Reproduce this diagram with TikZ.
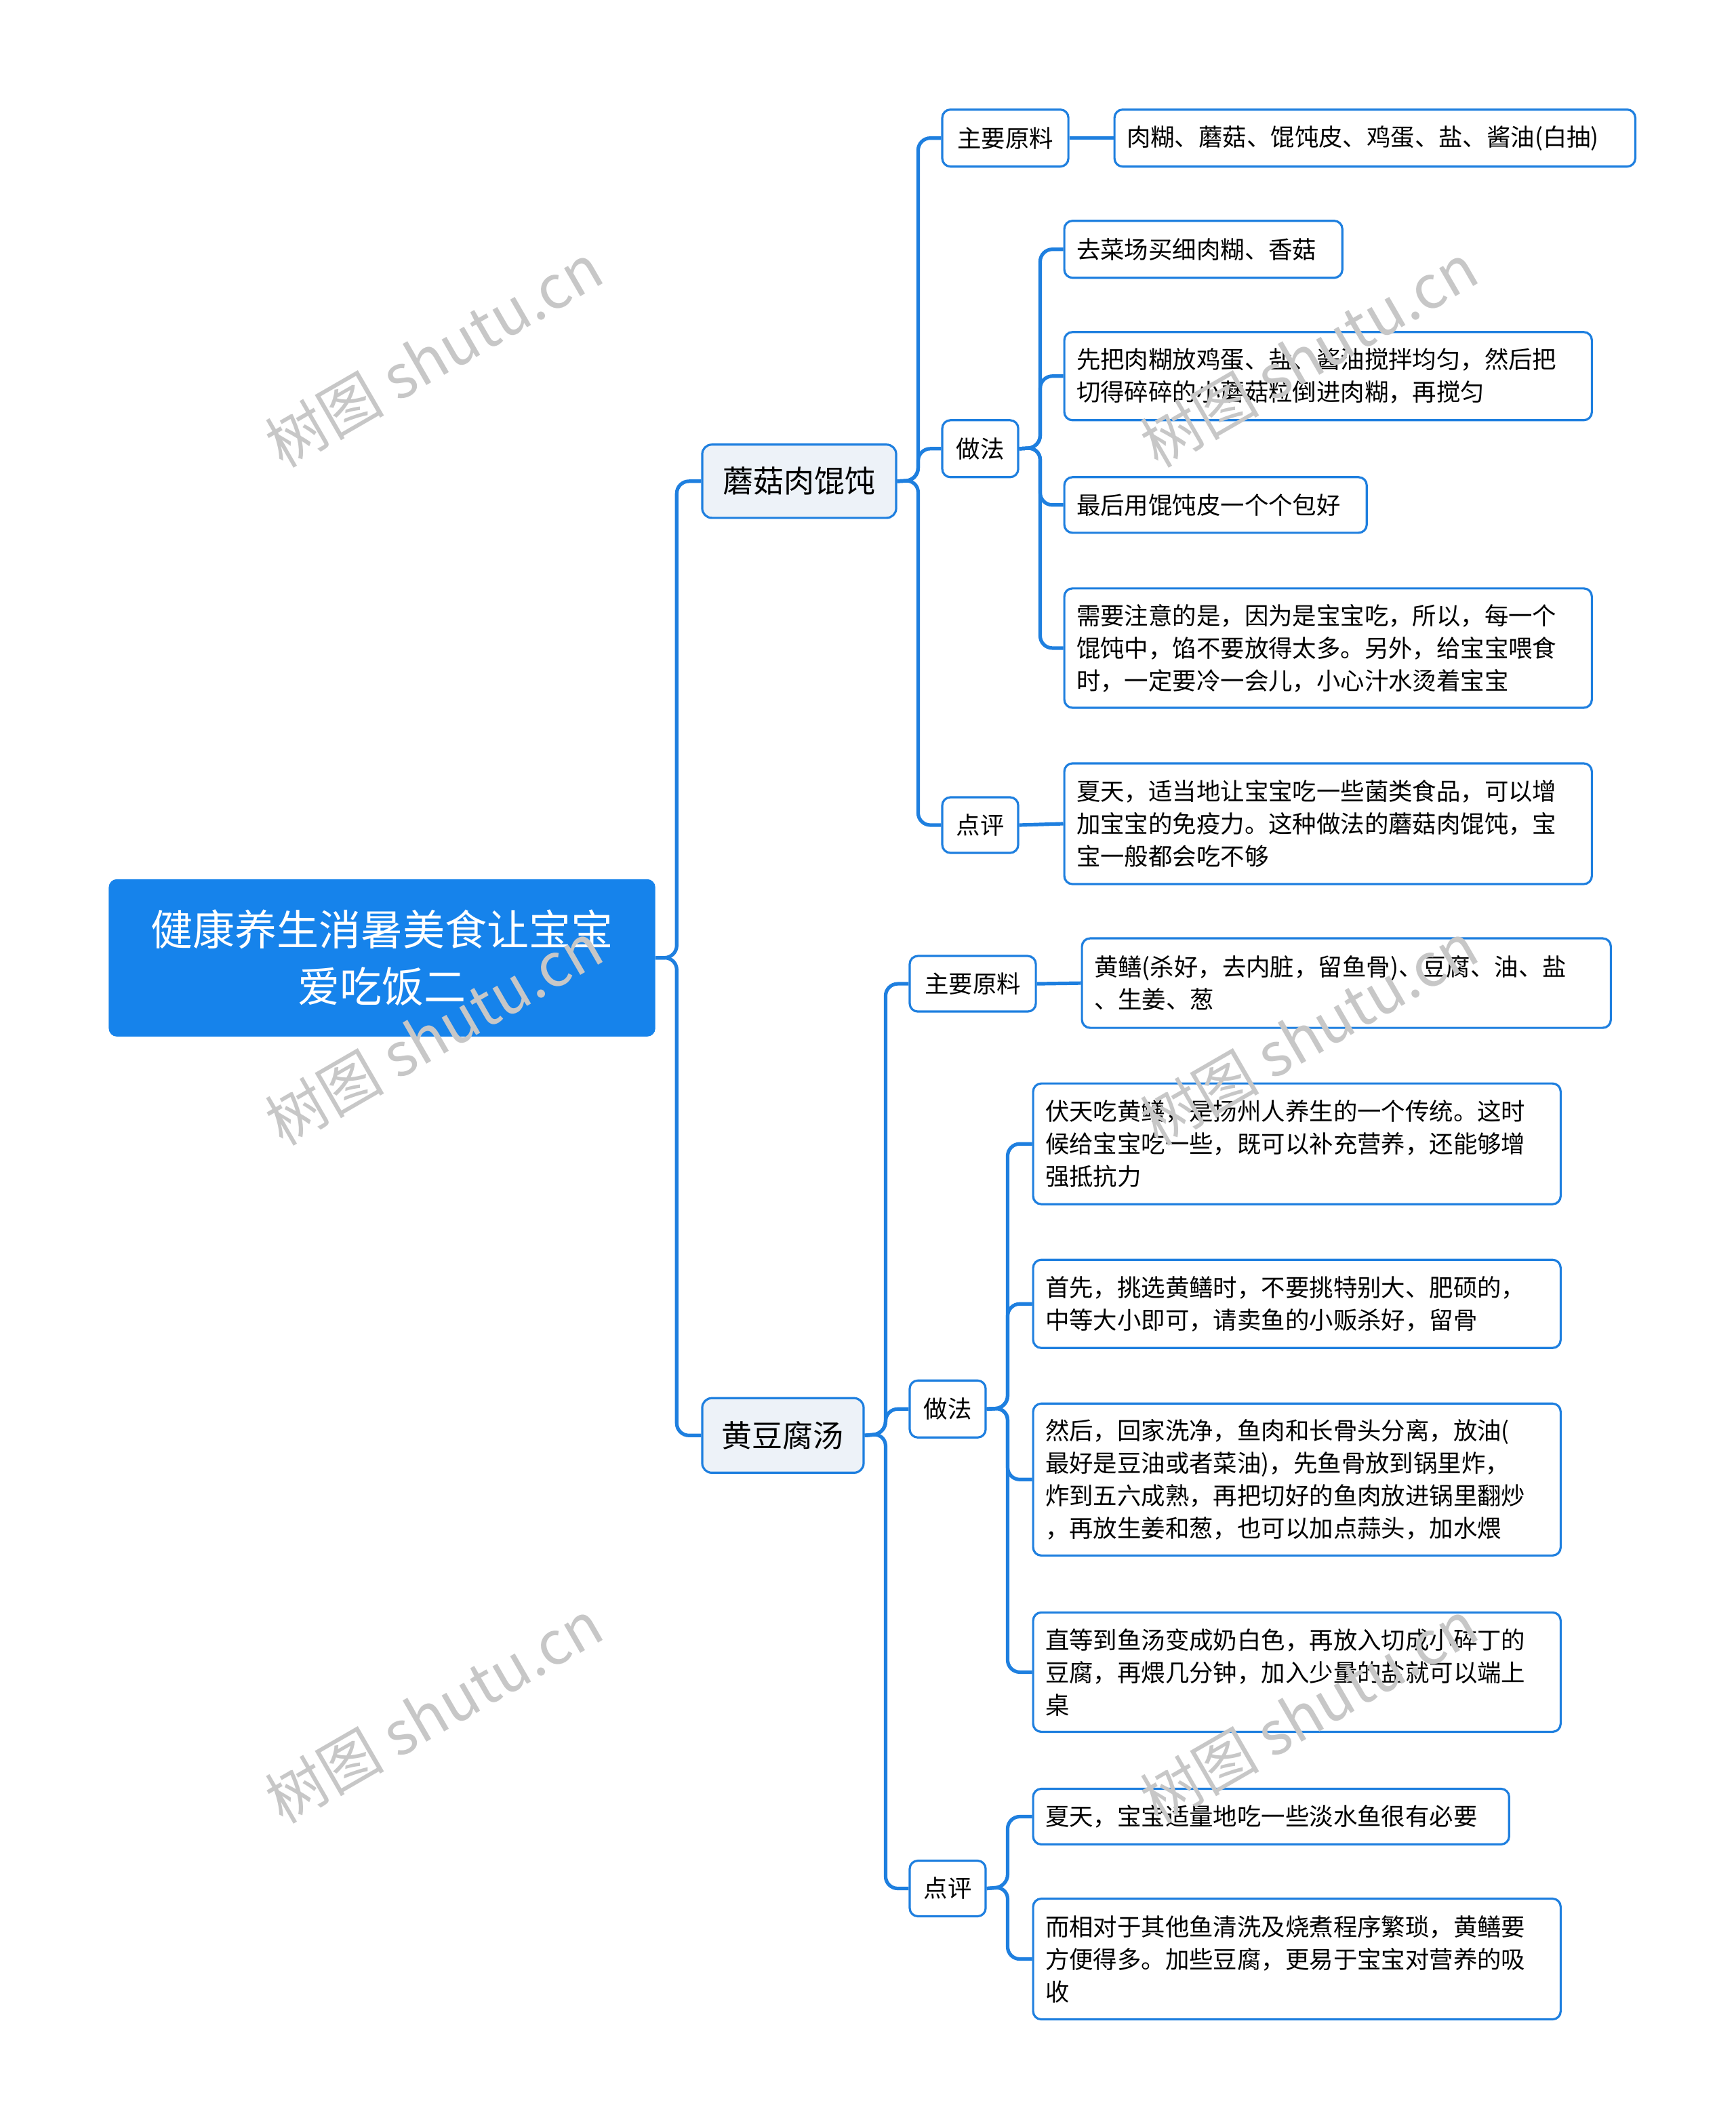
\documentclass[tikz,border=0pt]{standalone}
\usepackage{fontspec}
\setmainfont{Noto Sans CJK SC}
\begin{document}
\begin{tikzpicture}[x=1pt,y=-1pt,
  ln/.style={draw=lblue,line width=2.6pt,rounded corners=9pt},
  leaf/.style={draw=lblue,line width=1.6pt,rounded corners=6pt,fill=white,anchor=north west,inner xsep=9pt,inner ysep=0pt,align=left,font=\fontsize{17.7pt}{24pt}\selectfont,minimum height=#1pt},
  sub/.style={draw=lblue,line width=1.6pt,rounded corners=6pt,fill=white,anchor=north west,inner sep=0pt,align=center,font=\fontsize{17.7pt}{24pt}\selectfont},
  br/.style={draw=lblue,line width=1.6pt,rounded corners=7pt,fill=brfill,anchor=north west,inner sep=0pt,align=center,font=\fontsize{22.5pt}{28pt}\selectfont},
  wm/.style={text=black!22,rotate=30,font=\fontsize{44pt}{50pt}\selectfont}]
\definecolor{lblue}{HTML}{1E7FDF}
\definecolor{brfill}{HTML}{EDF2F8}
\definecolor{rootc}{HTML}{1683EB}
\fill[white] (0,0) rectangle (1280,1563);
\useasboundingbox (0,0) rectangle (1280,1563);
% root
\node[fill=rootc,rounded corners=6pt,anchor=north west,minimum width=403pt,minimum height=116pt,inner sep=0pt,align=center,text=white,font=\fontsize{31pt}{42pt}\selectfont] (root) at (80,648) {健康养生消暑美食让宝宝\\爱吃饭二};
% branches
\node[br,minimum width=143pt,minimum height=54pt] (b1) at (517,327) {蘑菇肉馄饨};
\node[br,minimum width=119pt,minimum height=55pt] (b2) at (517,1030) {黄豆腐汤};
% level 2
\node[sub,minimum width=93pt,minimum height=42pt] (b1a) at (694,80) {主要原料};
\node[sub,minimum width=56pt,minimum height=42pt] (b1b) at (694,309) {做法};
\node[sub,minimum width=56pt,minimum height=41pt] (b1c) at (694,587) {点评};
\node[sub,minimum width=93pt,minimum height=41pt] (b2a) at (670,704) {主要原料};
\node[sub,minimum width=56pt,minimum height=42pt] (b2b) at (670,1017) {做法};
\node[sub,minimum width=56pt,minimum height=41pt] (b2c) at (670,1371) {点评};
% leaves b1
\node[leaf=42,text width=366pt] (l1) at (821,80) {肉糊、蘑菇、馄饨皮、鸡蛋、盐、酱油(白抽)};
\node[leaf=42,text width=187pt] (l2) at (784,162) {去菜场买细肉糊、香菇};
\node[leaf=65,text width=371pt] (l3) at (784,244) {先把肉糊放鸡蛋、盐、酱油搅拌均匀，然后把\\切得碎碎的小蘑菇粒倒进肉糊，再搅匀};
\node[leaf=41,text width=205pt] (l4) at (784,351) {最后用馄饨皮一个个包好};
\node[leaf=88,text width=371pt] (l5) at (784,433) {需要注意的是，因为是宝宝吃，所以，每一个\\馄饨中，馅不要放得太多。另外，给宝宝喂食\\时，一定要冷一会儿，小心汁水烫着宝宝};
\node[leaf=89,text width=371pt] (l6) at (784,562) {夏天，适当地让宝宝吃一些菌类食品，可以增\\加宝宝的免疫力。这种做法的蘑菇肉馄饨，宝\\宝一般都会吃不够};
% leaves b2
\node[leaf=66,text width=372pt] (m1) at (797,691) {黄鳝(杀好，去内脏，留鱼骨)、豆腐、油、盐\\、生姜、葱};
\node[leaf=89,text width=371pt] (m2) at (761,798) {伏天吃黄鳝，是扬州人养生的一个传统。这时\\候给宝宝吃一些，既可以补充营养，还能够增\\强抵抗力};
\node[leaf=65,text width=371pt] (m3) at (761,928) {首先，挑选黄鳝时，不要挑特别大、肥硕的，\\中等大小即可，请卖鱼的小贩杀好，留骨};
\node[leaf=112,text width=371pt] (m4) at (761,1034) {然后，回家洗净，鱼肉和长骨头分离，放油(\\最好是豆油或者菜油)，先鱼骨放到锅里炸，\\炸到五六成熟，再把切好的鱼肉放进锅里翻炒\\，再放生姜和葱，也可以加点蒜头，加水煨};
\node[leaf=88,text width=371pt] (m5) at (761,1188) {直等到鱼汤变成奶白色，再放入切成小碎丁的\\豆腐，再煨几分钟，加入少量的盐就可以端上\\桌};
\node[leaf=41,text width=333pt] (m6) at (761,1318) {夏天，宝宝适量地吃一些淡水鱼很有必要};
\node[leaf=89,text width=371pt] (m7) at (761,1399) {而相对于其他鱼清洗及烧煮程序繁琐，黄鳝要\\方便得多。加些豆腐，更易于宝宝对营养的吸\\收};
% connectors
\foreach \c in {b1,b2} \draw[ln] (root.east) -- (499,706) |- (\c.west);
\foreach \c in {b1a,b1b,b1c} \draw[ln] (b1.east) -- (677,354) |- (\c.west);
\foreach \c in {b2a,b2b,b2c} \draw[ln] (b2.east) -- (653,1057) |- (\c.west);
\draw[ln] (b1a.east) -- (l1.west);
\foreach \c in {l2,l3,l4,l5} \draw[ln] (b1b.east) -- (767,330) |- (\c.west);
\draw[ln] (b1c.east) -- (l6.west);
\draw[ln] (b2a.east) -- (m1.west);
\foreach \c in {m2,m3,m4,m5} \draw[ln] (b2b.east) -- (743,1038) |- (\c.west);
\foreach \c in {m6,m7} \draw[ln] (b2c.east) -- (743,1391) |- (\c.west);
% watermarks
\foreach \px/\py in {320/262,965/262,320/762,965/762,320/1262,965/1262}
  \node[wm] at (\px,\py) {树图 shutu.cn};
\end{tikzpicture}
\end{document}
